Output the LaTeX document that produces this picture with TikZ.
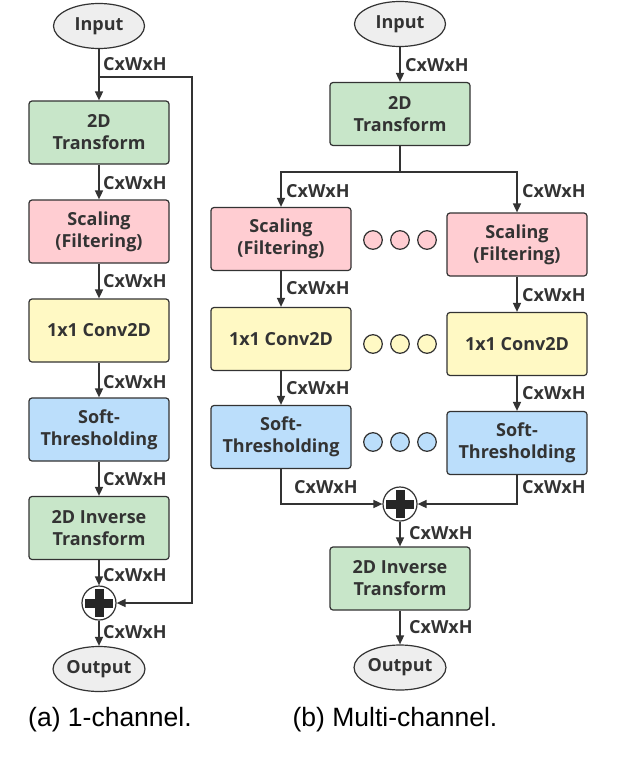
\documentclass[tikz,border=0pt]{standalone}
\usepackage{fontspec}
\setmainfont{Open Sans}
\newfontfamily\capfont{Liberation Sans}
\usetikzlibrary{shapes,arrows.meta,positioning}

\definecolor{linec}{HTML}{333333}
\definecolor{termc}{HTML}{EEEEEE}
\definecolor{greenc}{HTML}{C8E6C9}
\definecolor{pinkc}{HTML}{FFCDD2}
\definecolor{yellowc}{HTML}{FFF9C4}
\definecolor{bluec}{HTML}{BBDEFB}

\tikzset{
  block/.style={draw=linec, line width=1.2pt, rounded corners=3pt, minimum width=140pt,
    minimum height=63pt, align=center, text=linec, inner sep=2pt,
    font=\fontsize{18}{22}\selectfont\bfseries},
  term/.style={ellipse, draw=linec, line width=1.2pt, fill=termc, minimum width=91pt,
    minimum height=45pt, inner sep=0pt, text=linec, font=\fontsize{18}{22}\selectfont\bfseries},
  flow/.style={draw=linec, line width=1.6pt, -{Triangle[length=9pt,width=8pt]}},
  wire/.style={draw=linec, line width=1.6pt},
  dimlab/.style={anchor=west, inner sep=0pt, text=linec, font=\fontsize{18}{20}\selectfont\bfseries},
  adder/.style={circle, draw=linec, line width=1.2pt, fill=white, minimum size=34pt, inner sep=0pt,
    path picture={
      \fill[black!85] ([xshift=-14pt,yshift=-4.5pt]path picture bounding box.center) rectangle ([xshift=14pt,yshift=4.5pt]path picture bounding box.center);
      \fill[black!85] ([xshift=-4.5pt,yshift=-14pt]path picture bounding box.center) rectangle ([xshift=4.5pt,yshift=14pt]path picture bounding box.center);}},
  dotc/.style={circle, draw=linec, line width=1.2pt, minimum size=18.6pt, inner sep=0pt},
  caption/.style={inner sep=0pt, font=\capfont\fontsize{26.5}{30}\selectfont}
}

\begin{document}
\begin{tikzpicture}[x=1pt,y=-1pt]
% canvas
\path[use as bounding box, fill=white] (0,0) rectangle (618,760);

% (a) single channel
\node[term] (inA) at (99,26) {Input};
\node[block, fill=greenc] (trA) at (99,132.5) {2D\\Transform};
\node[block, fill=pinkc] (scA) at (99,231.5) {Scaling\\(Filtering)};
\node[block, fill=yellowc] (cvA) at (99,330.5) {1x1 Conv2D};
\node[block, fill=bluec] (stA) at (99,429.5) {Soft-\\Thresholding};
\node[block, fill=greenc] (invA) at (99,528) {2D Inverse\\Transform};
\node[adder] (sumA) at (99,603) {};
\node[term] (outA) at (99,669) {Output};
\coordinate (tapA) at (99,77);
\coordinate (backA) at (192,603);

\draw[flow] (inA) -- (trA);
\draw[flow] (trA) -- (scA);
\draw[flow] (scA) -- (cvA);
\draw[flow] (cvA) -- (stA);
\draw[flow] (stA) -- (invA);
\draw[flow] (invA) -- (sumA);
\draw[flow] (sumA) -- (outA);
% skip connection
\draw[flow] (tapA) -| (backA) -- (sumA);

\node[dimlab] (dA1) at (103,64) {CxWxH};
\node[dimlab] (dA2) at (103,183) {CxWxH};
\node[dimlab] (dA3) at (103,281) {CxWxH};
\node[dimlab] (dA4) at (103,382) {CxWxH};
\node[dimlab] (dA5) at (103,479) {CxWxH};
\node[dimlab] (dA6) at (103,575) {CxWxH};
\node[dimlab] (dA7) at (103,632) {CxWxH};

% (b) multi channel
\node[term] (inB) at (400,24) {Input};
\node[block, fill=greenc] (trB) at (400,114) {2D\\Transform};
\node[block, fill=pinkc] (scB1) at (281,239) {Scaling\\(Filtering)};
\node[block, fill=pinkc] (scB2) at (517,244.5) {Scaling\\(Filtering)};
\node[block, fill=yellowc] (cvB1) at (281,339) {1x1 Conv2D};
\node[block, fill=yellowc] (cvB2) at (517,344) {1x1 Conv2D};
\node[block, fill=bluec] (stB1) at (281,437) {Soft-\\Thresholding};
\node[block, fill=bluec] (stB2) at (517,443) {Soft-\\Thresholding};
\node[adder] (sumB) at (400,504) {};
\node[block, fill=greenc] (invB) at (400,578.5) {2D Inverse\\Transform};
\node[term] (outB) at (400,667.5) {Output};
\coordinate (splitB) at (400,172);

% channel dots
\node[dotc, fill=pinkc] (pd1) at (373,240) {};
\node[dotc, fill=pinkc] (pd2) at (400,240) {};
\node[dotc, fill=pinkc] (pd3) at (427,240) {};
\node[dotc, fill=yellowc] (yd1) at (373,344) {};
\node[dotc, fill=yellowc] (yd2) at (400,344) {};
\node[dotc, fill=yellowc] (yd3) at (427,344) {};
\node[dotc, fill=bluec] (bd1) at (373,442) {};
\node[dotc, fill=bluec] (bd2) at (400,442) {};
\node[dotc, fill=bluec] (bd3) at (427,442) {};

\draw[flow] (inB) -- (trB);
\draw[wire] (trB) -- (splitB);
\draw[flow] (splitB) -| (scB1);
\draw[flow] (splitB) -| (scB2);
\draw[flow] (scB1) -- (cvB1);
\draw[flow] (scB2) -- (cvB2);
\draw[flow] (cvB1) -- (stB1);
\draw[flow] (cvB2) -- (stB2);
\draw[flow] (stB1) |- (sumB);
\draw[flow] (stB2) |- (sumB);
\draw[flow] (sumB) -- (invB);
\draw[flow] (invB) -- (outB);

\node[dimlab] (dB1) at (405,65) {CxWxH};
\node[dimlab] (dB2) at (286,191) {CxWxH};
\node[dimlab] (dB3) at (522,191) {CxWxH};
\node[dimlab] (dB4) at (286,288) {CxWxH};
\node[dimlab] (dB5) at (522,295) {CxWxH};
\node[dimlab] (dB6) at (286,388) {CxWxH};
\node[dimlab] (dB7) at (522,393) {CxWxH};
\node[dimlab] (dB8) at (294,487) {CxWxH};
\node[dimlab] (dB9) at (522,487) {CxWxH};
\node[dimlab] (dB10) at (409,533) {CxWxH};
\node[dimlab] (dB11) at (409,627) {CxWxH};

% sub-captions
\node[caption] (capA) at (110,720) {(a) 1-channel.};
\node[caption] (capB) at (395,720) {(b) Multi-channel.};
\end{tikzpicture}
\end{document}
